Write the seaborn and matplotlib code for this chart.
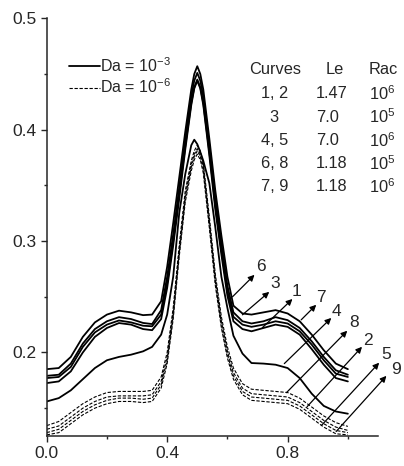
import numpy as np
import pandas as pd
import matplotlib.pyplot as plt
import seaborn as sns
from matplotlib.ticker import MultipleLocator, FormatStrFormatter

# x grid
x = [0, .04, .08, .12, .16, .20, .24, .28, .32, .35,
     .38, .40, .42, .44, .46, .48, .49, .50, .51, .52,
     .54, .56, .58, .60, .62, .65, .68, .72, .76, .80,
     .84, .88, .92, .96, 1.0]

# Da = 1e-3 (solid) curves
solid_a = [.185, .186, .196, .214, .227, .234, .2375, .236, .2335, .234,
           .246, .277, .316, .357, .398, .436, .450, .457, .450, .436,
           .392, .345, .305, .268, .242, .235, .234, .236, .238, .235,
           .228, .216, .202, .190, .185]
solid_b = [.179, .180, .190, .208, .221, .228, .2317, .230, .2265, .2255,
           .238, .268, .306, .348, .391, .430, .444, .451, .444, .430,
           .386, .338, .298, .260, .236, .228, .226, .228, .2317, .229,
           .222, .210, .196, .184, .180]
solid_c = [.177, .178, .187, .205, .218, .225, .2287, .227, .224, .2235,
           .234, .262, .300, .342, .385, .424, .438, .445, .438, .424,
           .380, .332, .292, .255, .232, .225, .223, .225, .228, .226,
           .219, .207, .193, .181, .178]
solid_d = [.1725, .174, .183, .200, .214, .222, .2264, .225, .221, .220,
           .230, .258, .296, .338, .382, .422, .437, .444, .437, .422,
           .377, .328, .288, .251, .228, .221, .219, .222, .225, .223,
           .216, .203, .189, .177, .174]
solid_4 = [.156, .159, .166, .176, .186, .193, .196, .198, .201, .205,
           .216, .234, .268, .325, .360, .386, .391, .387, .380, .372,
           .352, .312, .268, .240, .215, .199, .1905, .190, .189, .186,
           .177, .163, .152, .147, .145]

# Da = 1e-6 (dashed) curves
dash_8 = [.1343, .138, .146, .154, .160, .164, .165, .165, .165, .166,
          .178, .200, .240, .296, .345, .372, .381, .386, .381, .370,
          .322, .270, .232, .205, .186, .172, .167, .166, .165, .164,
          .159, .151, .143, .137, .1336]
dash_2 = [.131, .134, .142, .150, .156, .160, .161, .161, .161, .162,
          .174, .196, .236, .292, .341, .369, .378, .383, .378, .367,
          .318, .266, .228, .201, .182, .168, .163, .162, .161, .160,
          .155, .147, .139, .133, .130]
dash_5 = [.128, .131, .139, .147, .153, .157, .159, .159, .158, .159,
          .171, .193, .233, .289, .338, .366, .376, .381, .376, .364,
          .315, .263, .225, .198, .179, .165, .160, .159, .158, .157,
          .152, .144, .136, .130, .128]
dash_9 = [.126, .128, .136, .144, .150, .154, .156, .156, .155, .156,
          .168, .190, .230, .286, .335, .363, .373, .378, .373, .361,
          .312, .260, .222, .195, .176, .162, .157, .156, .155, .154,
          .149, .141, .133, .127, .126]

solid_curves = [solid_a, solid_b, solid_c, solid_d, solid_4]
dashed_curves = [dash_8, dash_2, dash_5, dash_9]

# table text
table_header = ['Curves', 'Le', 'Rac']
table_curves = ['1, 2', '3', '4, 5', '6, 8', '7, 9']
table_le = ['1.47', '7.0', '7.0', '1.18', '1.18']
table_rac = ['10$^6$', '10$^5$', '10$^6$', '10$^5$', '10$^6$']

# curve labels: (label, arrow start, arrow end, text pos) in data coords
arrow_labels = ['6', '3', '1', '7', '4', '8', '2', '5', '9']
arrow_start = [(.617, .250), (.650, .2338), (.716, .2222), (.845, .2293),
               (.789, .190), (.796, .1639), (.865, .1514), (.912, .1344),
               (.961, .129)]
arrow_end = [(.690, .2697), (.739, .2544), (.816, .248), (.895, .2428),
             (.945, .231), (.998, .2195), (1.047, .2051), (1.104, .1908),
             (1.128, .1790)]
label_pos = [(.713, .277), (.760, .262), (.829, .255), (.912, .249),
             (.963, .237), (1.021, .2265), (1.068, .211), (1.128, .198),
             (1.160, .1845)]

sns.set_style('ticks')
plt.rcParams['font.family'] = ['Liberation Sans', 'DejaVu Sans']
plt.rcParams['mathtext.default'] = 'regular'

fig = plt.figure(figsize=(4.04, 4.66), dpi=100)
ax = fig.add_axes([0.1156, 0.0644, 0.8200, 0.8963])

for i, ys in enumerate(solid_curves):
    sns.lineplot(x=x, y=ys, ax=ax, color='black', lw=1.3,
                 label='Da = 10$^{-3}$' if i == 0 else None, legend=False)
for i, ys in enumerate(dashed_curves):
    sns.lineplot(x=x, y=ys, ax=ax, color='black', lw=0.8, linestyle=(0, (3, 1.5)),
                 label='Da = 10$^{-6}$' if i == 0 else None, legend=False)

ax.set_xlim(0, 1.1)
ax.set_ylim(0.125, 0.5)
ax.xaxis.set_major_locator(MultipleLocator(0.4))
ax.xaxis.set_minor_locator(MultipleLocator(0.2))
ax.yaxis.set_major_locator(MultipleLocator(0.1))
ax.yaxis.set_minor_locator(MultipleLocator(0.05))
ax.xaxis.set_major_formatter(FormatStrFormatter('%.1f'))
ax.yaxis.set_major_formatter(FormatStrFormatter('%.1f'))
ax.set_xticks([0.0, 0.4, 0.8])
ax.tick_params(which='major', length=4, width=1, labelsize=12.5, direction='out', pad=3)
ax.tick_params(which='minor', length=2.5, width=1, direction='out')
ax.set_xlabel('')
ax.set_ylabel('')
sns.despine(ax=ax)
for s in ['left', 'bottom']:
    ax.spines[s].set_linewidth(1.1)

handles, labels = ax.get_legend_handles_labels()
ax.legend(handles, labels, loc='upper left', bbox_to_anchor=(0.068, 0.91),
          frameon=False, fontsize=11.5, handlelength=1.9, handletextpad=0.05,
          labelspacing=0.2, borderpad=0, borderaxespad=0)

# table
fs = 11.8
ax.text(.759, .4544, table_header[0], ha='center', va='center', fontsize=fs)
ax.text(.955, .4544, table_header[1], ha='center', va='center', fontsize=fs)
ax.text(1.0705, .4544, table_header[2], ha='left', va='center', fontsize=fs)
row_y = [.4328, .4113, .3906, .3692, .3486]
for ry, c, le, rac in zip(row_y, table_curves, table_le, table_rac):
    ax.text(.756, ry, c, ha='center', va='center', fontsize=fs)
    ax.text(.895, ry, le, ha='left', va='center', fontsize=fs)
    ax.text(1.0705, ry, rac, ha='left', va='center', fontsize=fs)

# arrows with curve numbers
for lab, s, e, p in zip(arrow_labels, arrow_start, arrow_end, label_pos):
    ax.annotate('', xy=e, xytext=s, annotation_clip=False,
                arrowprops=dict(arrowstyle='-|>', color='black', lw=0.9,
                                mutation_scale=9, shrinkA=0, shrinkB=0))
    ax.text(p[0], p[1], lab, ha='center', va='center', fontsize=12.5, clip_on=False)

plt.savefig('out.png', dpi=100)
